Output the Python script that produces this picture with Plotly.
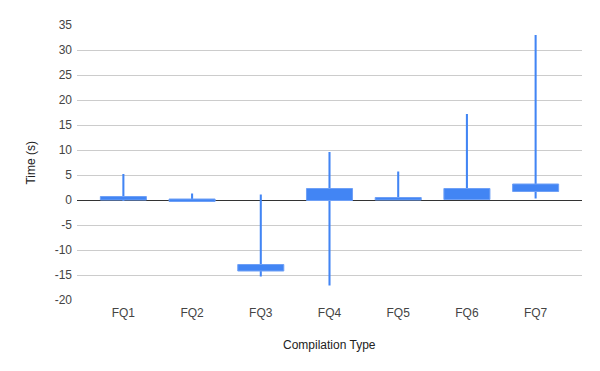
import plotly.graph_objects as go

categories = ["FQ1", "FQ2", "FQ3", "FQ4", "FQ5", "FQ6", "FQ7"]
low_vals = [-0.2, -0.3, -15.3, -17.1, 0.0, 0.0, 0.3]
open_vals = [0.0, -0.3, -14.2, -0.1, 0.0, 0.1, 1.7]
close_vals = [0.7, 0.2, -12.9, 2.3, 0.5, 2.3, 3.2]
high_vals = [5.2, 1.3, 1.1, 9.6, 5.7, 17.2, 33.0]

y_tick_vals = [-20, -15, -10, -5, 0, 5, 10, 15, 20, 25, 30, 35]
y_tick_text = ["-20", "-15", "-10", "-5", "0", "5", "10", "15", "20", "25", "30", "35"]

blue = "#4285F4"

box_base = [min(o, c) for o, c in zip(open_vals, close_vals)]
box_h = [abs(c - o) for o, c in zip(open_vals, close_vals)]
wick_h = [h - l for h, l in zip(high_vals, low_vals)]

fig = go.Figure()
fig.add_trace(go.Bar(x=categories, y=wick_h, base=low_vals, width=0.03,
                     marker=dict(color=blue, line=dict(width=0)), showlegend=False))
fig.add_trace(go.Bar(x=categories, y=box_h, base=box_base, width=0.67,
                     marker=dict(color=blue, line=dict(color="#6fa0f6", width=1)), showlegend=False))

# page body has an 8px default margin, so the figure is offset by 8px
fig.update_layout(
    width=592, height=363,
    margin=dict(l=69, r=18, t=17, b=71),
    paper_bgcolor="white", plot_bgcolor="white",
    barmode="overlay",
    font=dict(family="Arial, Liberation Sans, sans-serif", size=12, color="#444444"),
    xaxis=dict(showgrid=False, showline=False, ticks="", automargin=False,
               range=[-0.675, 6.675], ticklabelstandoff=4,
               tickfont=dict(size=12, color="#444444")),
    yaxis=dict(range=[-20, 35], tickmode="array", tickvals=y_tick_vals, ticktext=y_tick_text,
               automargin=False,
               showgrid=True, gridcolor="#cccccc", gridwidth=1,
               zeroline=True, zerolinecolor="#333333", zerolinewidth=1.3,
               showline=False, ticks="", ticklabelstandoff=4,
               tickfont=dict(size=12, color="#444444")),
    annotations=[
        dict(text="Compilation Type", xref="paper", yref="paper", x=0.5, y=-0.164,
             xanchor="center", yanchor="middle", showarrow=False,
             font=dict(size=12, color="#222222")),
        dict(text="Time (s)", xref="paper", yref="paper", x=-0.093, y=0.5,
             xanchor="center", yanchor="middle", showarrow=False, textangle=-90,
             font=dict(size=12, color="#222222")),
    ],
)

fig.write_html("out.html")
